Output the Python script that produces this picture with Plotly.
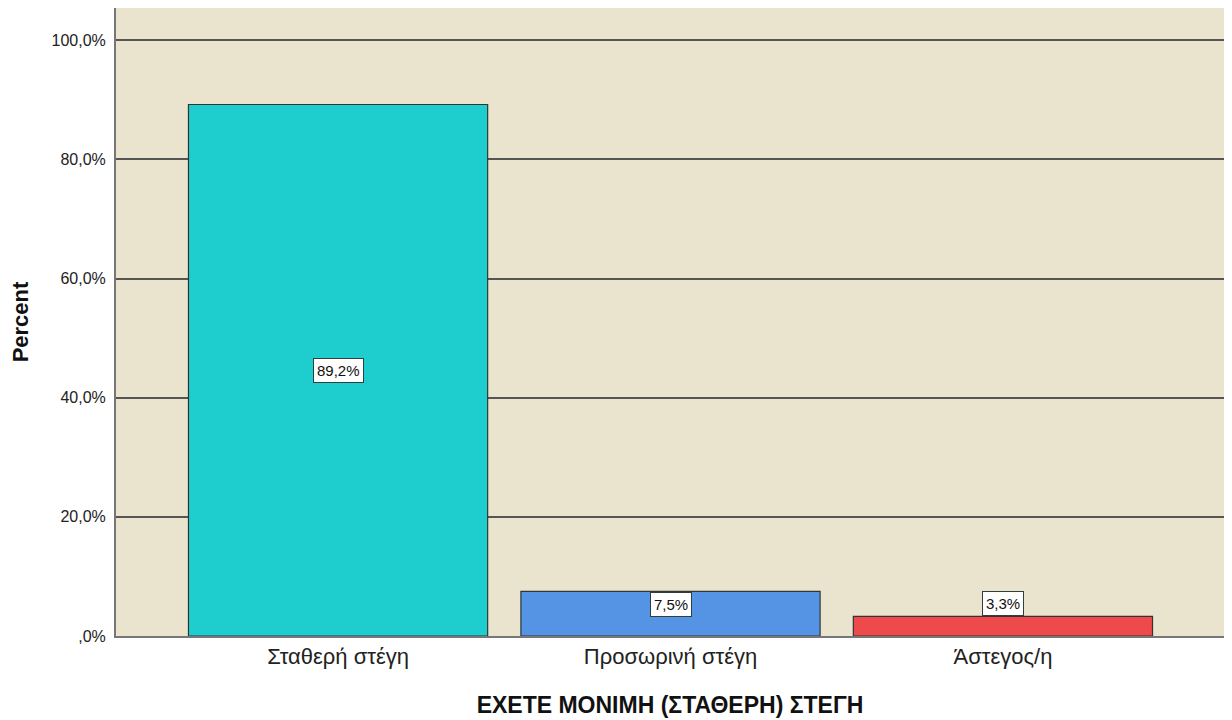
import plotly.graph_objects as go

categories = ["Σταθερή στέγη", "Προσωρινή στέγη", "Άστεγος/η"]
values = [89.2, 7.5, 3.3]
value_labels = ["89,2%", "7,5%", "3,3%"]
colors = ["#1ECDCD", "#5594E5", "#EE4A4C"]
tick_vals = [0, 20, 40, 60, 80, 100]
tick_text = [",0%", "20,0%", "40,0%", "60,0%", "80,0%", "100,0%"]
x_title = "ΕΧΕΤΕ ΜΟΝΙΜΗ (ΣΤΑΘΕΡΗ) ΣΤΕΓΗ"
y_title = "Percent"

FONT = "Liberation Sans, Arial, sans-serif"

fig = go.Figure()
fig.add_trace(go.Bar(
    x=categories, y=values, width=0.9,
    marker=dict(color=colors, line=dict(color="#333333", width=1.2)),
    hoverinfo="skip",
))

annos = []
for i, (c, v, t) in enumerate(zip(categories, values, value_labels)):
    if v > 20:
        y, anchor, shift = v / 2, "middle", 0
    elif v > 5:
        y, anchor, shift = v, "top", -1
    else:
        y, anchor, shift = v, "bottom", 0
    annos.append(dict(
        x=c, y=y, text=t, showarrow=False, yanchor=anchor, yshift=shift,
        font=dict(family=FONT, size=15, color="#111111"),
        bgcolor="white", bordercolor="#2F3F3F", borderwidth=1, borderpad=3,
    ))

fig.update_layout(
    width=1232, height=720,
    margin=dict(l=108, r=16, t=0, b=92),
    paper_bgcolor="white", plot_bgcolor="#EAE4CF",
    showlegend=False,
    annotations=annos,
    font=dict(family=FONT),
    xaxis=dict(
        range=[-0.668, 2.665],
        showgrid=False, ticks="",
        tickfont=dict(family=FONT, size=22, color="#222222"),
        showline=True, linecolor="#777777", linewidth=2,
        title=dict(text="<b>" + x_title + "</b>", font=dict(family=FONT, size=23, color="#111111"), standoff=28),
    ),
    yaxis=dict(
        range=[0, 105.4],
        tickvals=tick_vals, ticktext=tick_text,
        ticks="", ticklabelstandoff=5,
        tickfont=dict(family=FONT, size=16, color="#222222"),
        showgrid=True, gridcolor="#555555", gridwidth=1.5,
        showline=True, linecolor="#777777", linewidth=2,
        zeroline=False,
        title=dict(text="<b>" + y_title + "</b>", font=dict(family=FONT, size=22, color="#111111"), standoff=22),
    ),
)

fig.write_html("out.html")
